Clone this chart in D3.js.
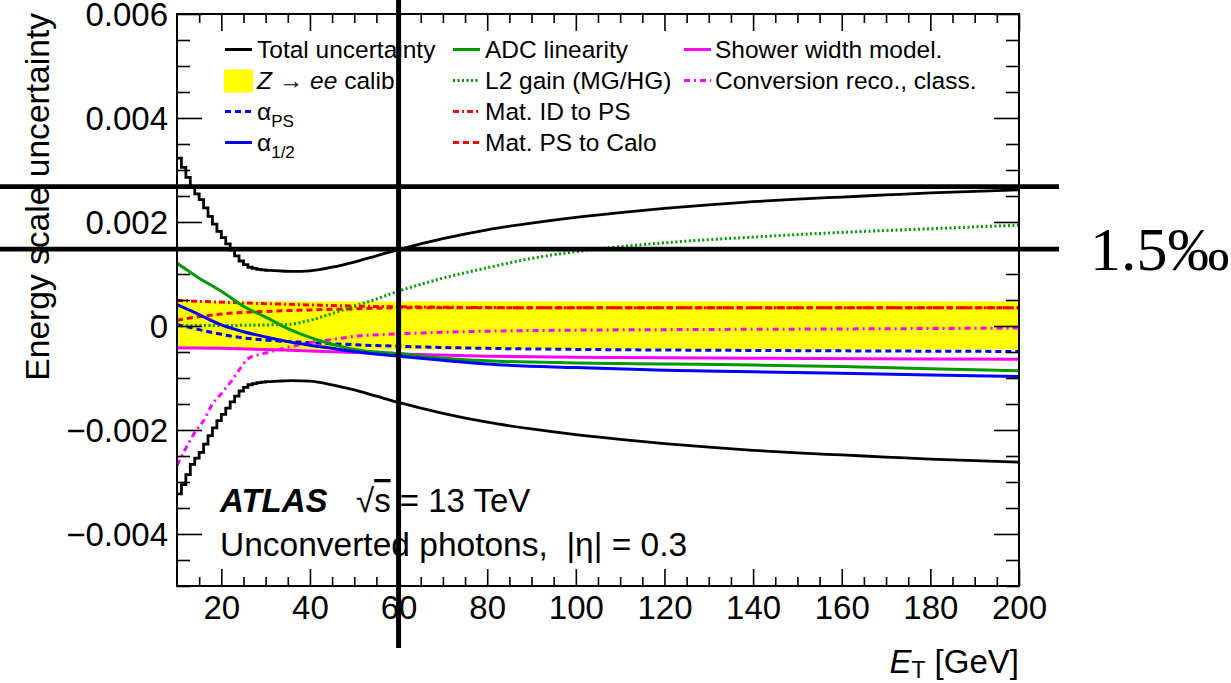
<!DOCTYPE html>
<html><head><meta charset="utf-8">
<script src="https://cdn.jsdelivr.net/npm/d3@7"></script>
<style>
html,body{margin:0;padding:0;background:#fff;overflow:hidden}
svg{display:block}
text{font-family:"Liberation Sans",Arial,Helvetica,sans-serif;fill:#000}
</style></head><body>
<svg id="c" width="1231" height="683"></svg>
<script>
// ---------- DATA ----------
const totalStepET  = [10,11,12,13,14,15,16,17,18,19,20,21,22,23,24,25,26,27,28,29,30];
const totalStepVal = [0.00323,0.00305,0.00286,0.00266,0.00254,0.00243,0.00227,0.00211,0.00196,0.00182,0.00170,0.00158,0.00146,0.00135,0.00125,0.00118,0.00113,0.00111,0.00109,0.00108,0.00107];
const totalSmoothET  = [31,33,36,40,45,50,55,60,70,80,90,100,110,120,130,140,150,160,170,180,190,200];
const totalSmoothVal = [0.00107,0.00106,0.00105,0.00106,0.00113,0.00123,0.00135,0.00147,0.00168,0.00185,0.00198,0.00209,0.00218,0.00226,0.00233,0.00239,0.00244,0.00248,0.00252,0.00256,0.00259,0.00262];

const zeeET = [10,200];
const zeeHi = [0.00047,0.00047];
const zeeLo = [-0.00045,-0.00045];

const alphaPSET  = [10,15,20,25,30,40,50,60,80,100,140,200];
const alphaPSVal = [0.00003,-0.00007,-0.00016,-0.00023,-0.00027,-0.00032,-0.00036,-0.00039,-0.00043,-0.00045,-0.00047,-0.00049];

const alpha12ET  = [10,15,20,25,30,35,40,45,50,60,70,80,100,120,140,160,180,200];
const alpha12Val = [0.00041,0.00022,0.00002,-0.00011,-0.00021,-0.00030,-0.00037,-0.00043,-0.00049,-0.00058,-0.00066,-0.00073,-0.00080,-0.00085,-0.00088,-0.00091,-0.00094,-0.00097];

const adcET  = [10,12,15,20,25,30,35,40,45,50,60,70,80,100,120,140,160,180,200];
const adcVal = [0.00121,0.00109,0.00092,0.00067,0.00038,0.00017,-0.00005,-0.00022,-0.00035,-0.00045,-0.00053,-0.00062,-0.00067,-0.00071,-0.00073,-0.00075,-0.00078,-0.00082,-0.00086];

const l2ET  = [10,20,30,35,40,45,50,55,60,70,80,90,100,120,140,160,180,200];
const l2Val = [0.00001,0.00001,0.00002,0.00003,0.00011,0.00024,0.00038,0.00052,0.00067,0.00092,0.00112,0.00130,0.00143,0.00160,0.00171,0.00180,0.00187,0.00194];

const matIDET  = [10,30,60,100,200];
const matIDVal = [0.00049,0.00043,0.00037,0.00035,0.00035];

const matPSET  = [10,15,20,30,40,50,60,100,200];
const matPSVal = [0.00011,0.00018,0.00023,0.00028,0.00031,0.00033,0.00035,0.00035,0.00035];

const showerET  = [10,20,30,40,50,60,80,100,140,200];
const showerVal = [-0.00042,-0.00043,-0.00045,-0.00048,-0.00051,-0.00054,-0.00058,-0.00060,-0.00062,-0.00064];

const convET  = [10,12,14,16,18,20,22,24,26,28,30,35,40,45,50,60,70,80,100,120,150,200];
const convVal = [-0.00268,-0.00235,-0.00205,-0.00182,-0.00150,-0.00130,-0.00109,-0.00085,-0.00063,-0.00056,-0.00052,-0.00041,-0.00032,-0.00026,-0.00020,-0.00015,-0.00012,-0.00010,-0.00008,-0.00007,-0.00006,-0.00004];

const xTicks = [20,40,60,80,100,120,140,160,180,200];
const xTickLabels = ["20","40","60","80","100","120","140","160","180","200"];
const yTicks = [-0.004,-0.002,0,0.002,0.004,0.006];
const yTickLabels = ["\u22120.004","\u22120.002","0","0.002","0.004","0.006"];

const annotHValues = [0.00268, 0.00148];
const annotVValue = [60];
const annotText = "1.5\u2030";

// ---------- CHART ----------
const svg = d3.select("#c");
const L = 177, R = 1019, T = 14, B = 586;
const x = d3.scaleLinear().domain([10,200]).range([L,R]);
const y = d3.scaleLinear().domain([-0.005,0.006]).range([B,T]);

svg.append("defs").append("clipPath").attr("id","clip")
  .append("rect").attr("x",L).attr("y",T).attr("width",R-L).attr("height",B-T);
const plot = svg.append("g").attr("clip-path","url(#clip)");

const zip = (xs,ys) => xs.map((v,i)=>[v,ys[i]]);

// Z->ee band
plot.append("path")
  .datum(zeeET.map((e,i)=>({e,lo:zeeLo[i],hi:zeeHi[i]})))
  .attr("fill","#ffff00")
  .attr("d", d3.area().x(d=>x(d.e)).y0(d=>y(d.lo)).y1(d=>y(d.hi)));

const smooth = d3.line().x(d=>x(d[0])).y(d=>y(d[1])).curve(d3.curveMonotoneX);
const stepL = d3.line().x(d=>x(d[0])).y(d=>y(d[1])).curve(d3.curveStepAfter);

const series = [
  {pts:zip(alphaPSET,alphaPSVal), color:"#0000ff", dash:"6,4"},
  {pts:zip(matIDET,matIDVal), color:"#ff0000", dash:"6,3,2,3"},
  {pts:zip(matPSET,matPSVal), color:"#ff0000", dash:"6,4"},
  {pts:zip(l2ET,l2Val), color:"#009900", dash:"2,2.5"},
  {pts:zip(showerET,showerVal), color:"#ff00ff", dash:null},
  {pts:zip(convET,convVal), color:"#ff00ff", dash:"6,4,2,4"},
  {pts:zip(adcET,adcVal), color:"#009900", dash:null},
  {pts:zip(alpha12ET,alpha12Val), color:"#0000ff", dash:null},
];
series.forEach(s=>{
  plot.append("path").datum(s.pts)
    .attr("fill","none").attr("stroke",s.color).attr("stroke-width",3)
    .attr("stroke-dasharray",s.dash).attr("d",smooth);
});

// Total (symmetric)
[1,-1].forEach(sg=>{
  const stepPts = zip(totalStepET,totalStepVal.map(v=>sg*v));
  stepPts.push([totalSmoothET[0], sg*totalStepVal[totalStepVal.length-1]]);
  plot.append("path").datum(stepPts).attr("fill","none").attr("stroke","#000")
    .attr("stroke-width",2.8).attr("d",stepL);
  plot.append("path").datum(zip(totalSmoothET,totalSmoothVal.map(v=>sg*v)))
    .attr("fill","none").attr("stroke","#000").attr("stroke-width",2.8).attr("d",smooth);
});

// Frame & axes
svg.append("rect").attr("x",L).attr("y",T).attr("width",R-L).attr("height",B-T)
  .attr("fill","none").attr("stroke","#000").attr("stroke-width",2);

const xMinor = d3.range(15,200,5).filter(v=>v%20!==0);
const yMinor = d3.range(-10,13).map(k=>k*0.0005).filter(v=>Math.abs(Math.round(v*1e4))%20!==0);

function tickStyle(g){ g.select(".domain").remove(); g.selectAll(".tick line").attr("stroke","#000").attr("stroke-width",1.6); }

svg.append("g").attr("transform",`translate(0,${B})`)
  .call(d3.axisBottom(x).tickValues(xTicks).tickSize(-17).tickPadding(0).tickFormat((d,i)=>xTickLabels[i]))
  .call(tickStyle)
  .call(g=>g.selectAll("text").attr("dy",null).attr("y",33).style("font-size","33px"));
svg.append("g").attr("transform",`translate(0,${B})`)
  .call(d3.axisBottom(x).tickValues(xMinor).tickSize(-9).tickFormat("")).call(tickStyle);
svg.append("g").attr("transform",`translate(0,${T})`)
  .call(d3.axisTop(x).tickValues(xTicks).tickSize(-17).tickFormat("")).call(tickStyle);
svg.append("g").attr("transform",`translate(0,${T})`)
  .call(d3.axisTop(x).tickValues(xMinor).tickSize(-9).tickFormat("")).call(tickStyle);

svg.append("g").attr("transform",`translate(${L},0)`)
  .call(d3.axisLeft(y).tickValues(yTicks).tickSize(-25).tickPadding(9).tickFormat((d,i)=>yTickLabels[i]))
  .call(tickStyle)
  .call(g=>g.selectAll("text").attr("dy","0.36em").style("font-size","33px"));
svg.append("g").attr("transform",`translate(${L},0)`)
  .call(d3.axisLeft(y).tickValues(yMinor).tickSize(-13).tickFormat("")).call(tickStyle);
svg.append("g").attr("transform",`translate(${R},0)`)
  .call(d3.axisRight(y).tickValues(yTicks).tickSize(-25).tickFormat("")).call(tickStyle);
svg.append("g").attr("transform",`translate(${R},0)`)
  .call(d3.axisRight(y).tickValues(yMinor).tickSize(-13).tickFormat("")).call(tickStyle);

// Axis titles
svg.append("text").attr("transform","translate(49,13) rotate(-90)")
  .attr("text-anchor","end").style("font-size","33.6px").text("Energy scale uncertainty");
const xt = svg.append("text").attr("x",R).attr("y",673).attr("text-anchor","end").style("font-size","33px");
xt.append("tspan").style("font-style","italic").text("E");
xt.append("tspan").attr("dy",5).style("font-size","23px").text("T");
xt.append("tspan").attr("dy",-5).text(" [GeV]");

// Legend
const legFont = "24.5px";
const rowY = r => 49.5 + 31*r;
const cols = [{s:225,e:252,t:257},{s:453,e:480,t:485},{s:684,e:711,t:715}];
const legend = [
  {c:0,r:0,type:"line",color:"#000",dash:null,label:[["Total uncertainty"]]},
  {c:0,r:1,type:"box",color:"#ffff00",label:[["Z","i"],[" \u2192 "],["ee","i"],[" calib."]]},
  {c:0,r:2,type:"line",color:"#0000ff",dash:"6,4",label:[["\u03b1"],["PS","sub"]]},
  {c:0,r:3,type:"line",color:"#0000ff",dash:null,label:[["\u03b1"],["1/2","sub"]]},
  {c:1,r:0,type:"line",color:"#009900",dash:null,label:[["ADC linearity"]]},
  {c:1,r:1,type:"line",color:"#009900",dash:"2,2.5",label:[["L2 gain (MG/HG)"]]},
  {c:1,r:2,type:"line",color:"#ff0000",dash:"6,3,2,3",label:[["Mat. ID to PS"]]},
  {c:1,r:3,type:"line",color:"#ff0000",dash:"6,4",label:[["Mat. PS to Calo"]]},
  {c:2,r:0,type:"line",color:"#ff00ff",dash:null,label:[["Shower width model."]]},
  {c:2,r:1,type:"line",color:"#ff00ff",dash:"6,4,2,4",label:[["Conversion reco., class."]]},
];
const lg = svg.append("g");
legend.forEach(it=>{
  const c = cols[it.c], cy = rowY(it.r);
  if(it.type==="box"){
    lg.append("rect").attr("x",c.s-1).attr("y",cy-11).attr("width",29).attr("height",23)
      .attr("rx",2).attr("fill",it.color);
  } else {
    lg.append("line").attr("x1",c.s).attr("x2",c.e).attr("y1",cy).attr("y2",cy)
      .attr("stroke",it.color).attr("stroke-width",3).attr("stroke-dasharray",it.dash);
  }
  const t = lg.append("text").attr("x",c.t).attr("y",cy+8.5).style("font-size",legFont).style("white-space","pre");
  it.label.forEach(p=>{
    const sp = t.append("tspan").text(p[0]);
    if(p[1]==="i") sp.style("font-style","italic");
    if(p[1]==="sub"){ sp.attr("dy",7).style("font-size","17px"); }
  });
});

// ATLAS label
const a1 = svg.append("text").attr("x",220).attr("y",512).style("font-size","33px").style("white-space","pre");
a1.append("tspan").style("font-weight","bold").style("font-style","italic").text("ATLAS");
a1.append("tspan").attr("x",356).text("\u221a");
a1.append("tspan").style("text-decoration","overline").text("s");
a1.append("tspan").text(" = 13 TeV");
svg.append("text").attr("x",220).attr("y",556).style("font-size","33.5px").style("white-space","pre")
  .text("Unconverted photons,  |\u03b7| = 0.3");

// Annotations
annotHValues.forEach(v=>{
  svg.append("line").attr("x1",0).attr("x2",1059).attr("y1",y(v)).attr("y2",y(v))
    .attr("stroke","#000").attr("stroke-width",4.8);
});
annotVValue.forEach(v=>{
  svg.append("line").attr("x1",x(v)).attr("x2",x(v)).attr("y1",0).attr("y2",648)
    .attr("stroke","#000").attr("stroke-width",5);
});
svg.append("text").attr("x",1090).attr("y",y(annotHValues[1])+21)
  .style("font-family","'Liberation Serif','Times New Roman',serif").style("font-size","62px")
  .text(annotText);
</script>
</body></html>
